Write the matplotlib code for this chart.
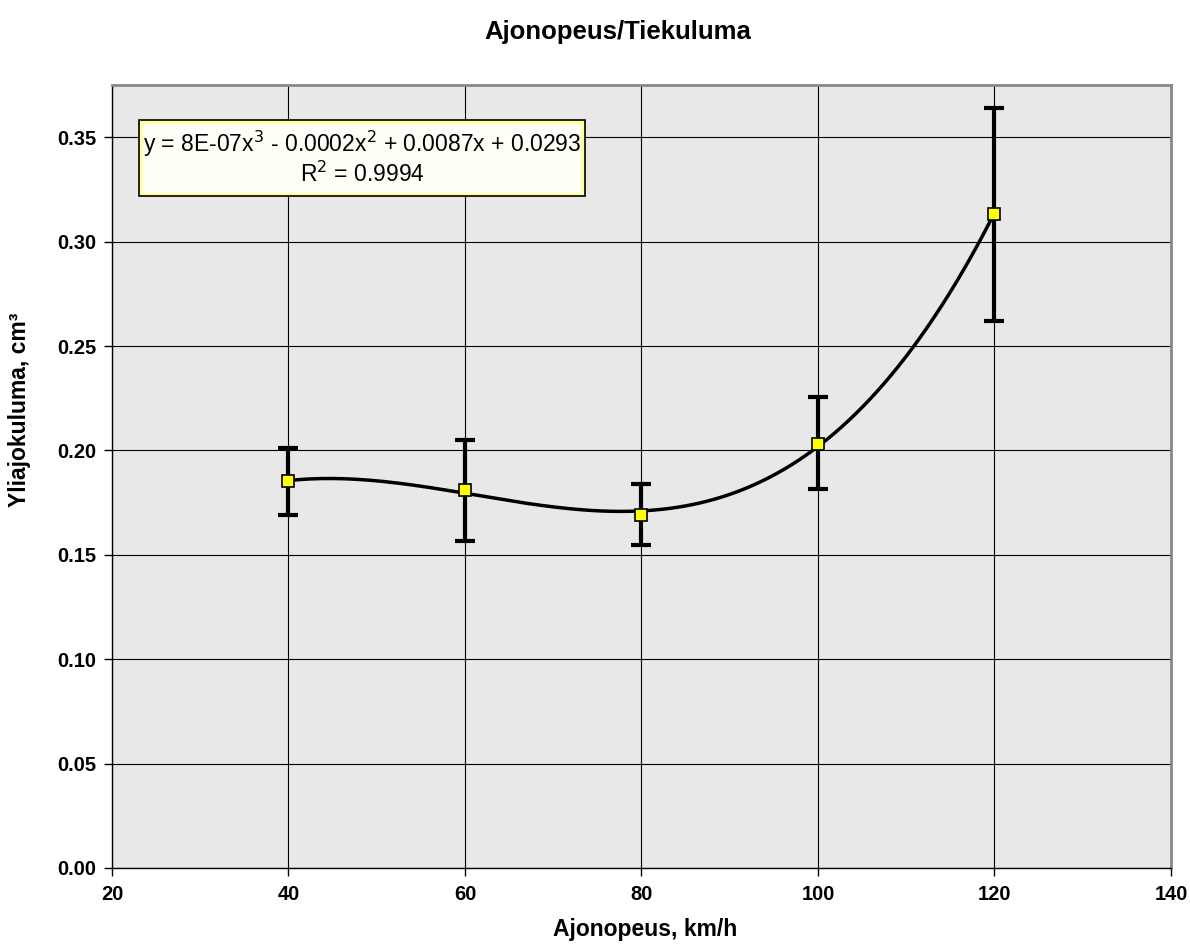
import numpy as np
import matplotlib
matplotlib.use('Agg')
import matplotlib.pyplot as plt
from matplotlib.patches import Rectangle

plt.rcParams['font.family'] = ['Liberation Sans', 'DejaVu Sans']

# data
speed = [40, 60, 80, 100, 120]
wear = [0.1852, 0.1809, 0.1689, 0.2033, 0.3134]
err_up = [0.0158, 0.0239, 0.0148, 0.0221, 0.0507]
err_down = [0.0162, 0.0244, 0.0144, 0.0220, 0.0512]

xticks = [20, 40, 60, 80, 100, 120, 140]
yticks = [0.00, 0.05, 0.10, 0.15, 0.20, 0.25, 0.30, 0.35]

fig = plt.figure(figsize=(11.9, 9.48), dpi=100)
ax = fig.add_axes([0.0941, 0.0844, 0.8899, 0.8259])
ax.set_facecolor('#e8e8e8')

# cubic trendline
coef = np.polyfit(speed, wear, 3)
xs = np.linspace(40, 120, 200)
ax.plot(xs, np.polyval(coef, xs), color='black', lw=2.5, zorder=3)

ax.errorbar(speed, wear, yerr=[err_down, err_up], fmt='none', ecolor='black',
            elinewidth=3, capsize=7, capthick=3, zorder=4)
ax.plot(speed, wear, 's', ms=9, mfc='#ffff00', mec='black', mew=1.2, zorder=5)

ax.set_xlim(20, 140)
ax.set_ylim(0, 0.375)
ax.set_xticks(xticks)
ax.set_yticks(yticks)
ax.set_yticklabels([f'{v:.2f}' for v in yticks])
ax.grid(True, color='black', lw=0.8)
ax.set_axisbelow(True)
for lab in ax.get_xticklabels() + ax.get_yticklabels():
    lab.set_fontweight('bold')
ax.tick_params(labelsize=14.5, direction='out', length=6, width=1, pad=5)
ax.tick_params(axis='x', pad=6)

for s in ['top', 'right']:
    ax.spines[s].set_color('#888888')
    ax.spines[s].set_linewidth(2)
for s in ['left', 'bottom']:
    ax.spines[s].set_color('black')
    ax.spines[s].set_linewidth(1)

# axis titles and chart title placed like the Excel original
fig.text(0.542, 0.019, 'Ajonopeus, km/h', ha='center', va='center',
         fontsize=16.5, fontweight='bold')
fig.text(0.0168, 0.5675, 'Yliajokuluma, cm³', ha='center', va='center',
         rotation=90, fontsize=16.5, fontweight='bold')
fig.text(0.519, 0.966, 'Ajonopeus/Tiekuluma', ha='center', va='center',
         fontsize=18.5, fontweight='bold')

# trendline label box: black edge, yellow inner rim, pale fill
ax.add_patch(Rectangle((0.0255, 0.8582), 0.4212, 0.0971, transform=ax.transAxes,
                       fc='#ffffa0', ec='black', lw=1.2, zorder=6))
ax.add_patch(Rectangle((0.029, 0.8627), 0.4142, 0.0881, transform=ax.transAxes,
                       fc='#fffff8', ec='none', zorder=6))
ax.text(0.2361, 0.9067, 'y = 8E-07x$^3$ - 0.0002x$^2$ + 0.0087x + 0.0293\nR$^2$ = 0.9994',
        transform=ax.transAxes, ha='center', va='center', fontsize=16.5,
        linespacing=1.15, zorder=7)

fig.savefig('out.png', dpi=100)
